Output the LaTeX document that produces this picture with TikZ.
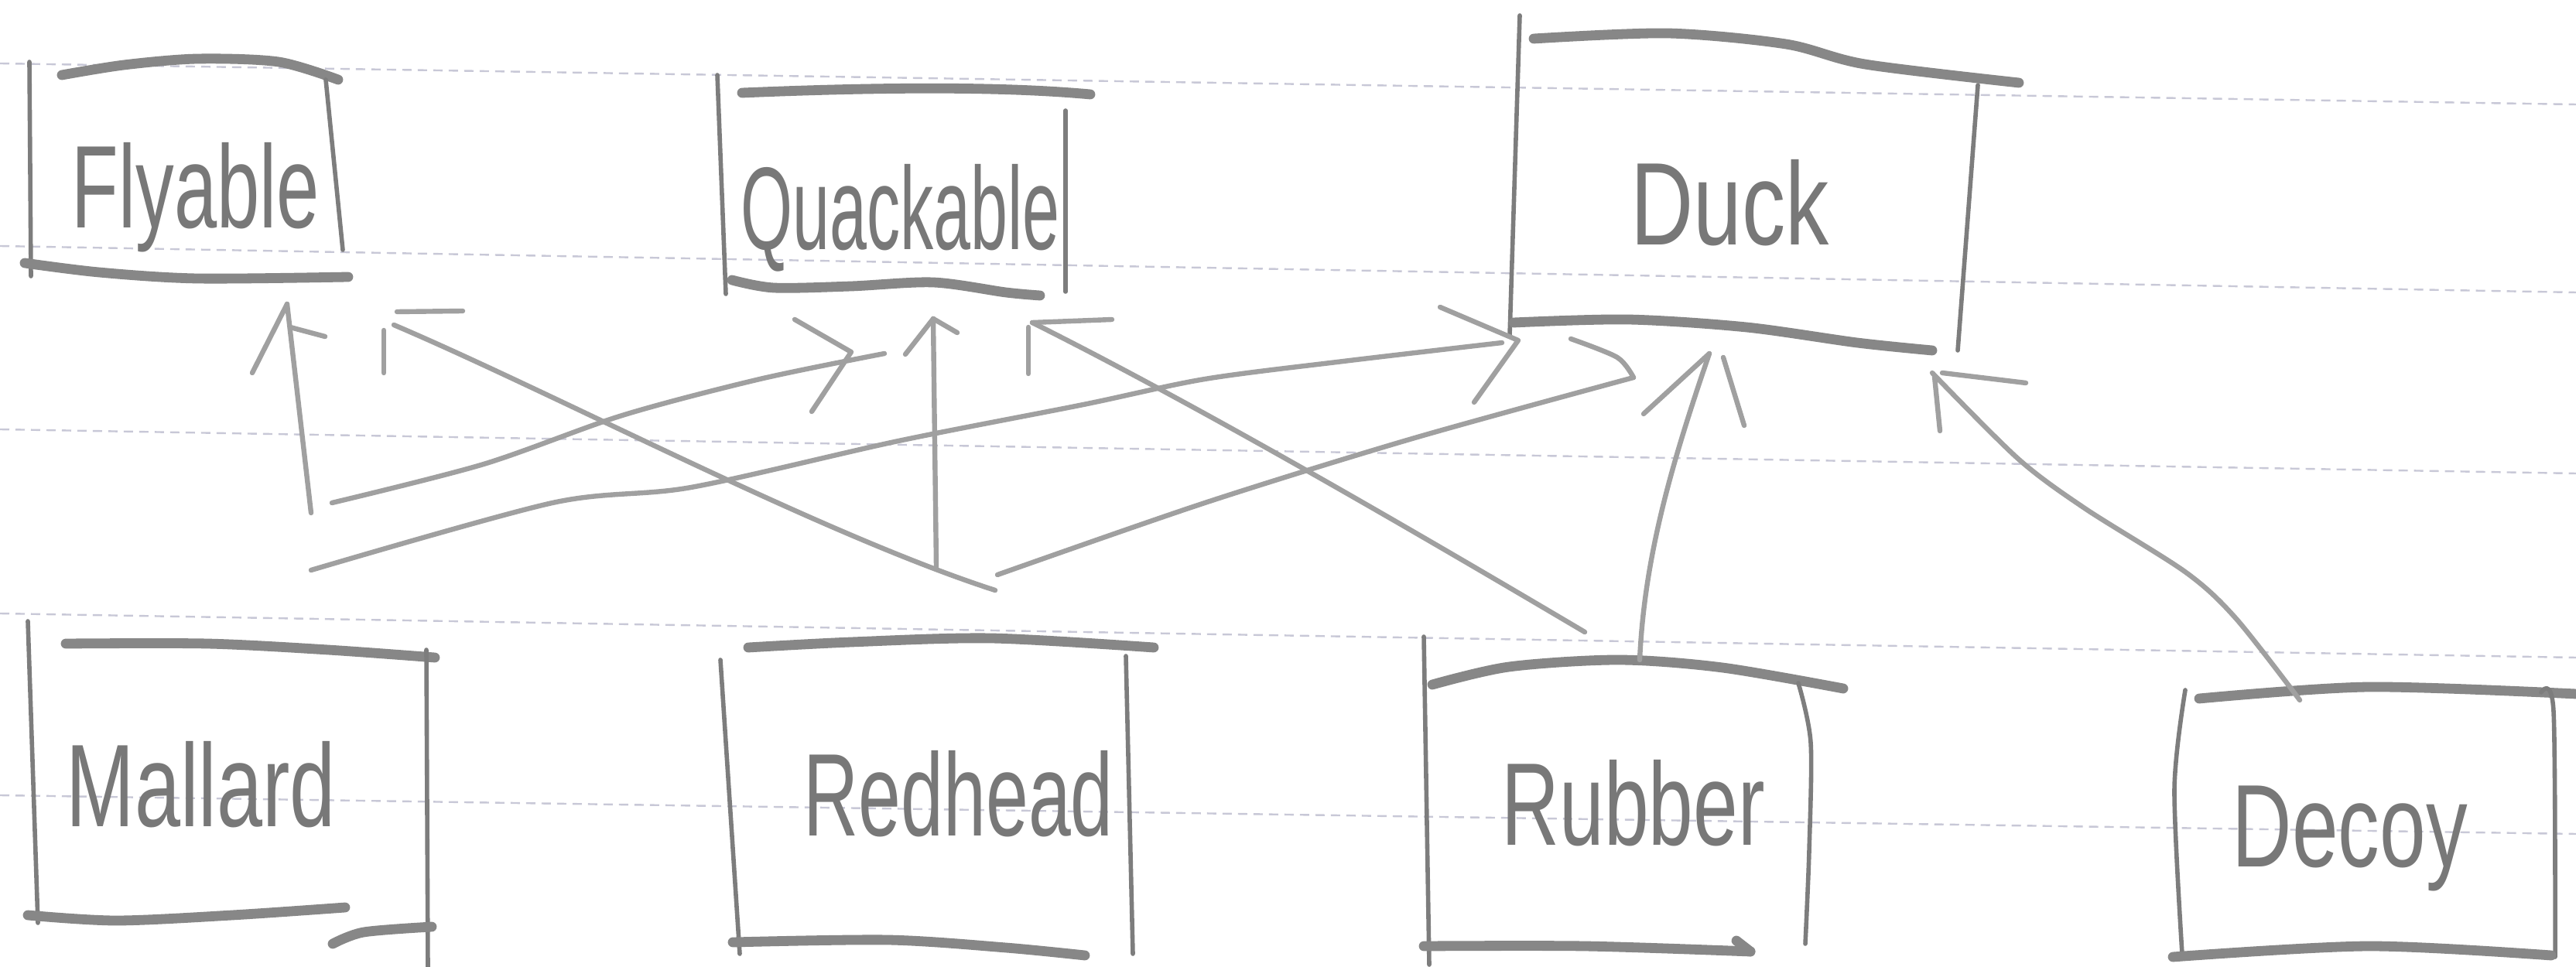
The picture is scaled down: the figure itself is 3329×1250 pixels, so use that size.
\documentclass[tikz,border=0pt]{standalone}
\usepackage{fontspec}
\usepackage{graphicx}
\setmainfont{Liberation Sans}
\definecolor{pencil}{RGB}{135,135,135}
\definecolor{pencilside}{RGB}{125,125,125}
\definecolor{pencilarrow}{RGB}{160,160,160}
\definecolor{penciltext}{RGB}{120,120,120}
\definecolor{rulecol}{RGB}{200,200,215}
\newcommand{\hw}[2]{\resizebox{#1}{\height}{#2}}
\begin{document}
\begin{tikzpicture}[
  x=0.25pt, y=-0.25pt,
  heavy/.style={draw=pencil, line width=3.2pt, line cap=round, line join=round},
  side/.style={draw=pencilside, line width=1.4pt, line cap=round, line join=round},
  conn/.style={draw=pencilarrow, line width=1.6pt, line cap=round, line join=round},
  barb/.style={draw=pencilarrow, line width=1.6pt, line cap=round, line join=round},
  ruling/.style={draw=rulecol, line width=0.6pt, dash pattern=on 3pt off 2pt},
  handtext/.style={inner sep=0pt, anchor=base west, text=penciltext, font=\fontsize{38}{40}\selectfont},
]
\useasboundingbox (0,0) rectangle (3329,1250);
\fill[white] (0,0) rectangle (3329,1250);

% notebook ruling
\draw[ruling] (0,82) -- (3329,135);
\draw[ruling] (0,318) -- (3329,378);
\draw[ruling] (0,555) -- (3329,612);
\draw[ruling] (0,793) -- (3329,850);
\draw[ruling] (0,1028) -- (3329,1078);

% ---- Flyable box
\draw[side] (38,80) -- (40,357);
\draw[heavy] plot[smooth] coordinates {(80,97) (160,84) (255,76) (360,80) (437,103)};
\draw[side] (421,103) -- (443,323);
\draw[heavy] plot[smooth] coordinates {(32,340) (128,352) (255,360) (450,358)};
\node[handtext] (flyable) at (92,295) {\hw{80pt}{Flyable}};

% ---- Quackable box
\draw[side] (927,97) -- (938,380);
\draw[heavy] (959,120) .. controls (1150,112) and (1300,112) .. (1409,122);
\draw[side] (1377,143) -- (1377,377);
\draw[heavy] plot[smooth] coordinates {(946,362) (1000,372) (1100,370) (1206,365) (1300,378) (1344,382)};
\node[handtext] (quackable) at (957,323) {\hw{103pt}{Quackable}};

% ---- Duck box
\draw[side] (1964,20) -- (1951,433);
\draw[heavy] plot[smooth] coordinates {(1982,50) (2155,43) (2308,57) (2410,83) (2609,107)};
\draw[side] (2556,110) -- (2530,453);
\draw[heavy] plot[smooth] coordinates {(1956,417) (2104,413) (2257,423) (2400,443) (2497,453)};
\node[handtext] (duck) at (2107,317) {\hw{64pt}{Duck}};

% ---- Mallard box
\draw[side] (36,803) -- (49,1193);
\draw[heavy] plot[smooth] coordinates {(85,832) (268,832) (424,840) (562,850)};
\draw[side] (551,840) -- (553,1250);
\draw[heavy] plot[smooth] coordinates {(36,1183) (150,1190) (300,1183) (446,1173)};
\draw[heavy] plot[smooth] coordinates {(430,1220) (470,1205) (558,1198)};
\node[handtext] (mallard) at (85,1068) {\hw{87pt}{Mallard}};

% ---- Redhead box
\draw[side] (931,853) -- (956,1233);
\draw[heavy] plot[smooth] coordinates {(967,837) (1100,830) (1281,825) (1491,837)};
\draw[side] (1455,848) -- (1464,1233);
\draw[heavy] plot[smooth] coordinates {(947,1218) (1148,1215) (1300,1225) (1402,1235)};
\node[handtext] (redhead) at (1038,1080) {\hw{100pt}{Redhead}};

% ---- Rubber box
\draw[side] (1840,823) -- (1847,1247);
\draw[heavy] plot[smooth] coordinates {(1851,885) (1950,862) (2092,853) (2226,863) (2382,890)};
\draw[side] plot[smooth] coordinates {(2324,883) (2340,960) (2338,1100) (2333,1220)};
\draw[heavy] plot[smooth] coordinates {(1840,1223) (2048,1223) (2262,1230)};
\draw[heavy] (2244,1216) -- (2262,1230);
\node[handtext] (rubber) at (1940,1092) {\hw{85pt}{Rubber}};

% ---- Decoy box
\draw[side] plot[smooth] coordinates {(2824,892) (2810,1020) (2820,1233)};
\draw[heavy] plot[smooth] coordinates {(2842,903) (3061,888) (3329,897)};
\draw[side] plot[smooth] coordinates {(3284,895) (3300,920) (3302,1237)};
\draw[heavy] plot[smooth] coordinates {(2808,1237) (3061,1223) (3297,1235)};
\node[handtext] (decoy) at (2884,1120) {\hw{76pt}{Decoy}};

% ---- connector end points
\coordinate (mf-s) at (402,663);   \coordinate (mf-t) at (371,393);
\coordinate (rf-s) at (1286,763);  \coordinate (rf-t) at (509,420);
\coordinate (mq-s) at (429,650);   \coordinate (mq-t) at (1143,457);
\coordinate (md-s) at (402,737);   \coordinate (md-t) at (1941,443);
\coordinate (rq-s) at (1210,733);  \coordinate (rq-t) at (1206,412);
\coordinate (rd-s) at (1289,743);  \coordinate (rd-t) at (2111,488);
\coordinate (bq-s) at (2048,817);  \coordinate (bq-t) at (1334,417);
\coordinate (bd-s) at (2119,853);  \coordinate (bd-t) at (2209,457);
\coordinate (dd-s) at (2972,905);  \coordinate (dd-t) at (2497,482);

% Mallard -> Flyable
\draw[conn] (mf-s) -- (mf-t);
\draw[barb] (mf-t) -- (326,482);
\draw[barb] (375,423) -- (420,435);
% Redhead -> Flyable
\draw[conn] (rf-s) .. controls (1060,690) and (720,510) .. (rf-t);
\draw[barb] (496,427) -- (496,482);
\draw[barb] (513,403) -- (598,402);
% Mallard -> Quackable
\draw[conn] plot[smooth] coordinates {(mq-s) (625,600) (804,537) (982,490) (mq-t)};
\draw[barb] (1027,413) -- (1100,455) -- (1049,532);
% Mallard -> Duck
\draw[conn] plot[smooth] coordinates {(md-s) (714,650) (893,630) (1161,570) (1400,523) (1557,490) (1736,467) (md-t)};
\draw[barb] (1861,397) -- (1962,440) -- (1905,520);
% Redhead -> Quackable
\draw[conn] (rq-s) -- (rq-t);
\draw[barb] (rq-t) -- (1170,458);
\draw[barb] (rq-t) -- (1237,430);
% Redhead -> Duck
\draw[conn] plot[smooth] coordinates {(rd-s) (1557,650) (1825,567) (rd-t)};
\draw[barb] plot[smooth] coordinates {(2030,438) (2090,462) (rd-t)};
% Rubber -> Quackable
\draw[conn] (bq-s) .. controls (1850,700) and (1560,530) .. (bq-t);
\draw[barb] (1329,423) -- (1329,483);
\draw[barb] (bq-t) -- (1437,413);
% Rubber -> Duck
\draw[conn] (bd-s) .. controls (2125,720) and (2160,600) .. (bd-t);
\draw[barb] (bd-t) -- (2124,535);
\draw[barb] (2227,462) -- (2254,550);
% Decoy -> Duck
\draw[conn] plot[smooth] coordinates {(dd-s) (2890,800) (2825,740) (2694,657) (2608,593) (dd-t)};
\draw[barb] (2500,487) -- (2507,557);
\draw[barb] (2510,482) -- (2618,495);
\end{tikzpicture}
\end{document}
